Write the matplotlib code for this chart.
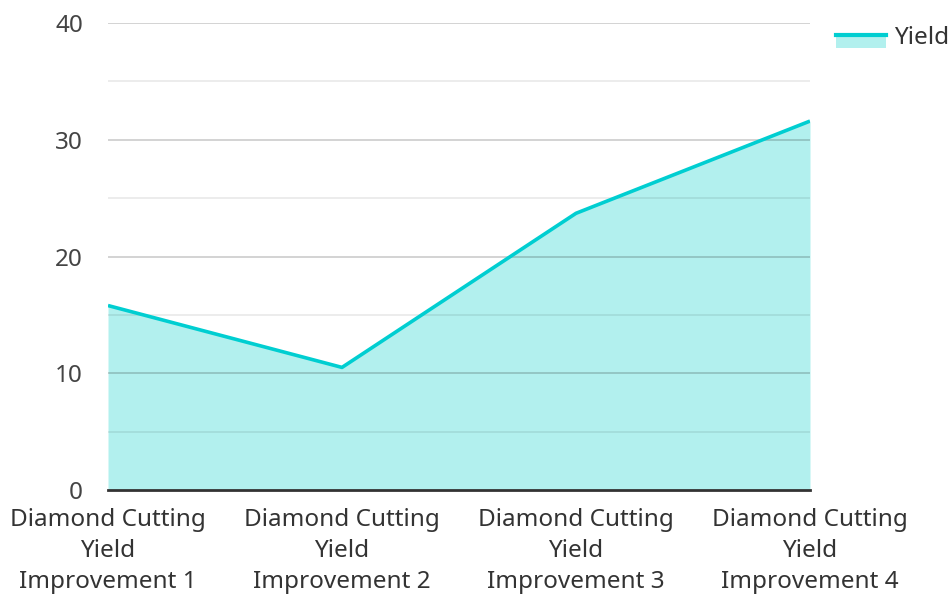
import matplotlib
matplotlib.use("Agg")
import matplotlib.pyplot as plt
from matplotlib.patches import Rectangle
from matplotlib.lines import Line2D
from matplotlib.legend_handler import HandlerBase

categories = ["Diamond Cutting\nYield\nImprovement 1",
              "Diamond Cutting\nYield\nImprovement 2",
              "Diamond Cutting\nYield\nImprovement 3",
              "Diamond Cutting\nYield\nImprovement 4"]
yield_values = [15.8, 10.5, 23.7, 31.6]
y_ticks = [0, 10, 20, 30, 40]
y_minor = [5, 15, 25, 35]

plt.rcParams['font.family'] = ['Noto Sans', 'DejaVu Sans']

line_color = "#00CED1"
fill_color = "#B2F0EE"

fig = plt.figure(figsize=(9.51, 5.96), dpi=100)
ax = fig.add_axes([108/951, 106/596, (810-108)/951, (490-23)/596])

x = list(range(len(categories)))
ax.fill_between(x, yield_values, 0, color=fill_color, zorder=1, linewidth=0)
ax.plot(x, yield_values, color=line_color, linewidth=2.6, zorder=4, solid_capstyle='butt')

for v in y_ticks[1:]:
    ax.axhline(v, color="black", alpha=0.2, linewidth=1.2, zorder=2)
for v in y_minor:
    ax.axhline(v, color="black", alpha=0.09, linewidth=1.2, zorder=2)

ax.set_xlim(0, len(categories) - 1)
ax.set_ylim(0, 40)
ax.set_yticks(y_ticks)
ax.set_yticklabels([str(v) for v in y_ticks], fontsize=17.5, color="#444444")
ax.set_xticks(x)
ax.set_xticklabels(categories, fontsize=17.5, color="#333333", linespacing=1.4)
ax.tick_params(axis='both', length=0)
ax.tick_params(axis='y', pad=18)
ax.tick_params(axis='x', pad=13)

for s in ['top', 'right', 'left']:
    ax.spines[s].set_visible(False)
ax.spines['bottom'].set_color("#333333")
ax.spines['bottom'].set_linewidth(2)
ax.spines['bottom'].set_zorder(5)


class AreaHandler(HandlerBase):
    def create_artists(self, legend, orig_handle, xdescent, ydescent,
                       width, height, fontsize, trans):
        yc = -ydescent + height / 2 + 0.5
        r = Rectangle((-xdescent, yc - 9.5), width, 9.5,
                      facecolor=fill_color, edgecolor='none', transform=trans)
        l = Line2D([-xdescent, -xdescent + width], [yc, yc],
                   color=line_color, linewidth=3, transform=trans)
        return [r, l]


proxy = Rectangle((0, 0), 1, 1)
leg = fig.legend([proxy], ["Yield"], loc='upper left',
                 bbox_to_anchor=(814/951, 1 - 4/596), frameon=False,
                 fontsize=17.5, handlelength=2.05, handleheight=0.6,
                 handletextpad=0.35,
                 handler_map={Rectangle: AreaHandler()})
for t in leg.get_texts():
    t.set_color("#333333")

fig.savefig("out.png", dpi=100)
